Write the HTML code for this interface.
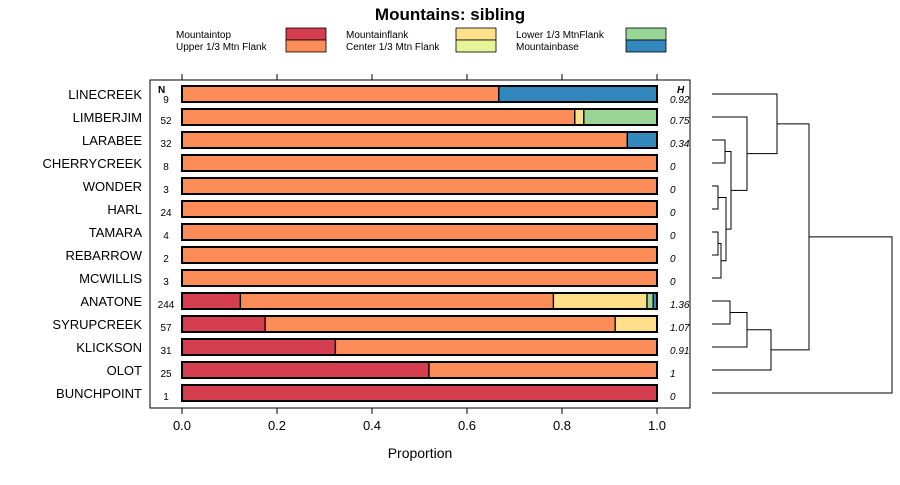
<!DOCTYPE html>
<html><head><meta charset="utf-8"><style>
body{margin:0;background:#fff;font-family:"Liberation Sans",sans-serif}
svg text{font-family:"Liberation Sans",sans-serif}
</style></head><body>
<svg id="c" width="900" height="480" xmlns="http://www.w3.org/2000/svg">
<text x="450" y="20" text-anchor="middle" font-size="17" font-weight="bold">Mountains: sibling</text>
<g id="legend"></g>
<rect x="150" y="80" width="540" height="328" fill="none" stroke="#000"/>
<g id="bars"></g><g id="axis"></g><g id="dendro"></g>
<text x="158" y="93" font-size="10" font-weight="bold">N</text>
<text x="677" y="93" font-size="10" font-weight="bold" font-style="italic">H</text>
<text x="420" y="458" text-anchor="middle" font-size="14">Proportion</text>
</svg>
<script>
const sites=["LINECREEK","LIMBERJIM","LARABEE","CHERRYCREEK","WONDER","HARL","TAMARA","REBARROW","MCWILLIS","ANATONE","SYRUPCREEK","KLICKSON","OLOT","BUNCHPOINT"];
const counts=[9,52,32,8,3,24,4,2,3,244,57,31,25,1];
const hvals=["0.92","0.75","0.34","0","0","0","0","0","0","1.36","1.07","0.91","1","0"];
const categories=["Mountaintop","Upper 1/3 Mtn Flank","Mountainflank","Center 1/3 Mtn Flank","Lower 1/3 MtnFlank","Mountainbase"];
const colors=["#D53E4F","#FC8D59","#FEE08B","#E6F598","#99D594","#3288BD"];
const props=[
[0,0.667,0,0,0,0.333],[0,0.827,0.019,0,0.154,0],[0,0.9375,0,0,0,0.0625],
[0,1,0,0,0,0],[0,1,0,0,0,0],[0,1,0,0,0,0],[0,1,0,0,0,0],[0,1,0,0,0,0],[0,1,0,0,0,0],
[0.123,0.659,0.197,0,0.013,0.008],[0.175,0.737,0.088,0,0,0],[0.323,0.677,0,0,0,0],[0.52,0.48,0,0,0,0],[1,0,0,0,0,0]];
const ticks=[0,0.2,0.4,0.6,0.8,1.0];
// dendrogram merges: [childA, childB, height]; leaves 0..13, new clusters numbered 14..26
const mergeA=[2,4,6,16,15,14,1,0,9,22,23,21,25];
const mergeB=[3,5,7,8,17,18,19,20,10,11,12,24,13];
const mergeH=[0.065,0.03,0.03,0.045,0.07,0.095,0.175,0.325,0.09,0.175,0.295,0.485,0.9];
const NS="http://www.w3.org/2000/svg";
function mk(p,t,a){const e=document.createElementNS(NS,t);for(const k in a)e.setAttribute(k,a[k]);p.appendChild(e);return e;}
const X=v=>182+v*475, Y=i=>94+i*23;
const bars=document.getElementById('bars'),axis=document.getElementById('axis'),leg=document.getElementById('legend'),dg=document.getElementById('dendro');
categories.forEach((c,i)=>{const col=Math.floor(i/2),row=i%2;const lx=176+col*170,ly=34+row*12;
const t=mk(leg,'text',{x:lx,y:ly+4,'font-size':10});t.textContent=c;


const r=mk(leg,'rect',{x:lx+110,y:ly-6,width:40,height:12,fill:colors[i],stroke:'#000','stroke-width':0.8});

});
sites.forEach((s,i)=>{const y=Y(i);
const l=mk(bars,'text',{x:142,y:y+5,'font-size':13,'text-anchor':'end'});l.textContent=s;


const n=mk(bars,'text',{x:166,y:y+(i==0?9:7),'font-size':10,'text-anchor':'middle'});n.textContent=counts[i];


const h=mk(bars,'text',{x:670,y:y+(i==0?9:7),'font-size':10,'font-style':'italic'});h.textContent=hvals[i];


let acc=0;props[i].forEach((p,k)=>{if(p<=0)return;const r=mk(bars,'rect',{x:X(acc),y:y-8,width:p*475,height:16,fill:colors[k],stroke:'#000','stroke-width':1.3});

acc+=p;});
const o=mk(bars,'rect',{x:X(0),y:y-8,width:475,height:16,fill:'none',stroke:'#000','stroke-width':2});

});
ticks.forEach(t=>{mk(axis,'line',{x1:X(t),x2:X(t),y1:408,y2:414,stroke:'#000'});mk(axis,'line',{x1:X(t),x2:X(t),y1:80,y2:74,stroke:'#000'});
const tx=mk(axis,'text',{x:X(t),y:430,'font-size':13,'text-anchor':'middle'});tx.textContent=t.toFixed(1);

});
const DX=h=>712+h*200;
const pos=sites.map((s,i)=>({y:Y(i),h:0}));
mergeA.forEach((a,m)=>{const A=pos[a],B=pos[mergeB[m]];const x=DX(mergeH[m]);
const p=mk(dg,'path',{d:`M${DX(A.h)},${A.y}H${x}V${B.y}H${DX(B.h)}`,fill:'none',stroke:'#000','stroke-width':1});


pos.push({y:(A.y+B.y)/2,h:mergeH[m]});});
</script>
</body></html>
